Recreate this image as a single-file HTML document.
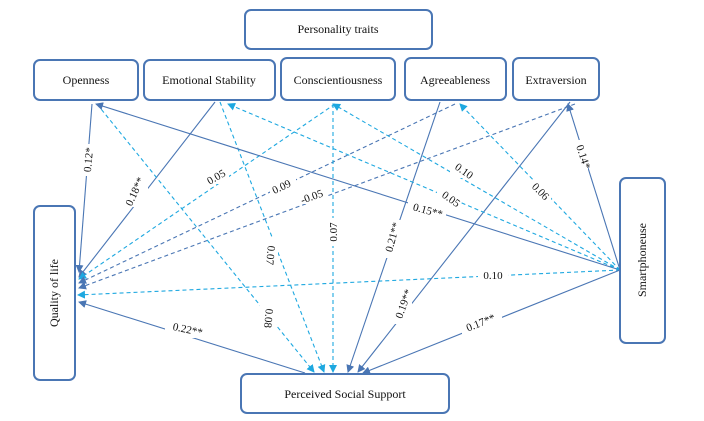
<!DOCTYPE html>
<html><head><style>
body{margin:0;background:#fff;width:704px;height:421px;overflow:hidden}
svg{display:block}
text{font-family:"Liberation Serif",serif;font-size:11px;fill:#111}
.bt{font-size:12px}
.b{fill:#fff;stroke:#4a76b4;stroke-width:2}
.s{stroke:#4a76b4;stroke-width:1.1;fill:none}
.d{stroke:#1ea8e0;stroke-width:1.1;fill:none;stroke-dasharray:4,3}
.dd{stroke:#4a76b4;stroke-width:1.1;fill:none;stroke-dasharray:4,3}
</style></head><body>
<svg width="704" height="421" viewBox="0 0 704 421">
<defs>
<marker id="a" markerWidth="8" markerHeight="8" refX="7" refY="4" orient="auto" markerUnits="userSpaceOnUse"><path d="M0,0L8,4L0,8z" fill="#4a76b4"/></marker>
<marker id="c" markerWidth="8" markerHeight="8" refX="7" refY="4" orient="auto" markerUnits="userSpaceOnUse"><path d="M0,0L8,4L0,8z" fill="#1ea8e0"/></marker>
</defs>
<line class="s" x1="92" y1="104" x2="79" y2="272" marker-end="url(#a)"/>
<line class="s" x1="215" y1="102" x2="79" y2="277" marker-end="url(#a)"/>
<line class="d" x1="335" y1="104" x2="79" y2="279" marker-end="url(#c)"/>
<line class="dd" x1="455" y1="104" x2="79" y2="283" marker-end="url(#a)"/>
<line class="dd" x1="575" y1="104" x2="79" y2="288" marker-end="url(#a)"/>
<line class="d" x1="620" y1="270" x2="78" y2="295" marker-end="url(#c)"/>
<line class="s" x1="305" y1="373" x2="79" y2="302" marker-end="url(#a)"/>
<line class="d" x1="97" y1="104" x2="314" y2="372" marker-end="url(#c)"/>
<line class="d" x1="220" y1="102" x2="324" y2="372" marker-end="url(#c)"/>
<line class="d" x1="333" y1="104" x2="333" y2="372" marker-end="url(#c)"/>
<line class="s" x1="440" y1="102" x2="348" y2="372" marker-end="url(#a)"/>
<line class="s" x1="570" y1="102" x2="358" y2="372" marker-end="url(#a)"/>
<line class="s" x1="620" y1="270" x2="96" y2="104" marker-end="url(#a)"/>
<line class="d" x1="620" y1="270" x2="228" y2="104" marker-end="url(#c)"/>
<line class="d" x1="620" y1="270" x2="333" y2="104" marker-end="url(#c)"/>
<line class="d" x1="620" y1="270" x2="460" y2="104" marker-end="url(#c)"/>
<line class="s" x1="620" y1="270" x2="568" y2="104" marker-end="url(#a)"/>
<line class="s" x1="620" y1="270" x2="363" y2="373" marker-end="url(#a)"/>
<g fill="#fff">
<rect x="82" y="144" width="16" height="32"/><rect x="124" y="175" width="24" height="32"/>
<rect x="205" y="168" width="24" height="16"/><rect x="270" y="178" width="26" height="16"/>
<rect x="298" y="188" width="30" height="16"/><rect x="326" y="218" width="14" height="28"/>
<rect x="262" y="238" width="16" height="34"/><rect x="260" y="300" width="16" height="34"/>
<rect x="383" y="220" width="18" height="38"/><rect x="394" y="286" width="18" height="38"/>
<rect x="408" y="202" width="38" height="16"/><rect x="437" y="190" width="24" height="16"/>
<rect x="450" y="162" width="24" height="16"/><rect x="525" y="180" width="26" height="20"/>
<rect x="570" y="140" width="18" height="36"/><rect x="478" y="267" width="30" height="16"/>
<rect x="462" y="312" width="40" height="22"/><rect x="165" y="320" width="44" height="18"/>
</g>
<text transform="translate(92,160) rotate(-85)" text-anchor="middle">0.12*</text>
<text transform="translate(138,193) rotate(-65)" text-anchor="middle">0.18**</text>
<text transform="translate(218,180) rotate(-30)" text-anchor="middle">0.05</text>
<text transform="translate(283,190) rotate(-25)" text-anchor="middle">0.09</text>
<text transform="translate(313,200) rotate(-20)" text-anchor="middle">-0.05</text>
<text transform="translate(337,232) rotate(-90)" text-anchor="middle">0.07</text>
<text transform="translate(267,255) rotate(95)" text-anchor="middle">0.07</text>
<text transform="translate(265,318) rotate(95)" text-anchor="middle">0.08</text>
<text transform="translate(396,238) rotate(-75)" text-anchor="middle">0.21**</text>
<text transform="translate(407,305) rotate(-70)" text-anchor="middle">0.19**</text>
<text transform="translate(427,214) rotate(15)" text-anchor="middle">0.15**</text>
<text transform="translate(449,202) rotate(35)" text-anchor="middle">0.05</text>
<text transform="translate(462,174) rotate(35)" text-anchor="middle">0.10</text>
<text transform="translate(538,194) rotate(45)" text-anchor="middle">0.06</text>
<text transform="translate(580,158) rotate(72)" text-anchor="middle">0.14*</text>
<text x="493" y="279" text-anchor="middle">0.10</text>
<text transform="translate(482,326) rotate(-22)" text-anchor="middle">0.17**</text>
<text transform="translate(187,333) rotate(12)" text-anchor="middle">0.22**</text>
<rect class="b" x="245" y="10" width="187" height="39" rx="6"/>
<text class="bt" x="338" y="33" text-anchor="middle">Personality traits</text>
<rect class="b" x="34" y="60" width="104" height="40" rx="6"/>
<text class="bt" x="86" y="84" text-anchor="middle">Openness</text>
<rect class="b" x="144" y="60" width="131" height="40" rx="6"/>
<text class="bt" x="209" y="84" text-anchor="middle">Emotional Stability</text>
<rect class="b" x="281" y="58" width="114" height="42" rx="6"/>
<text class="bt" x="338" y="84" text-anchor="middle">Conscientiousness</text>
<rect class="b" x="405" y="58" width="101" height="42" rx="6"/>
<text class="bt" x="455" y="84" text-anchor="middle">Agreeableness</text>
<rect class="b" x="513" y="58" width="86" height="42" rx="6"/>
<text class="bt" x="556" y="84" text-anchor="middle">Extraversion</text>
<rect class="b" x="34" y="206" width="41" height="174" rx="6"/>
<text class="bt" transform="translate(58,293) rotate(-90)" text-anchor="middle">Quality of life</text>
<rect class="b" x="620" y="178" width="45" height="165" rx="6"/>
<text class="bt" transform="translate(646,260) rotate(-90)" text-anchor="middle">Smartphoneuse</text>
<rect class="b" x="241" y="374" width="208" height="39" rx="6"/>
<text class="bt" x="345" y="398" text-anchor="middle">Perceived Social Support</text>
</svg>
</body></html>
